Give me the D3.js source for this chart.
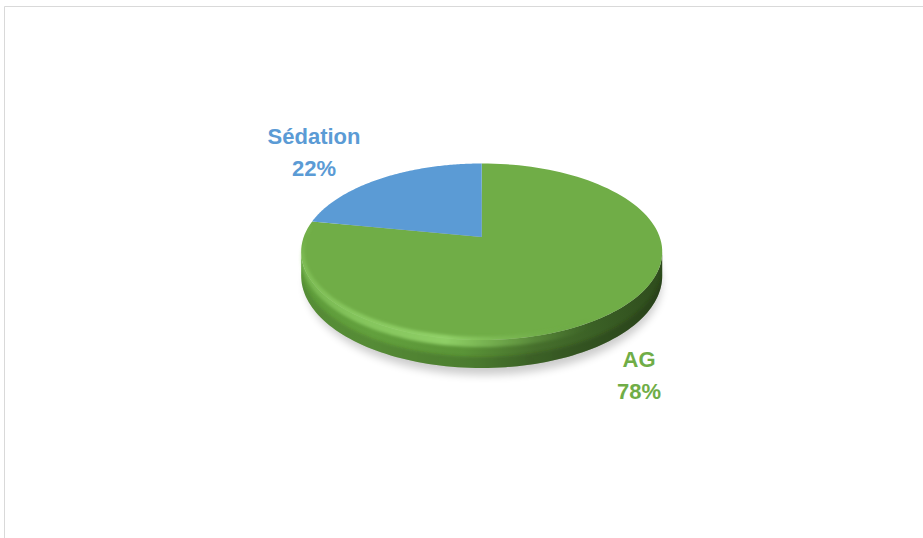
<!DOCTYPE html>
<html>
<head>
<meta charset="utf-8">
<script src="https://cdn.jsdelivr.net/npm/d3@7"></script>
<style>
  html, body { margin: 0; padding: 0; background: #fff; }
  svg { display: block; }
</style>
</head>
<body>
<svg id="chart" width="923" height="538"></svg>
<script>
// ---- data ----
const categories = ["AG", "Sédation"];
const values = [78, 22];
const labels = ["78%", "22%"];
const colors = ["#70AD47", "#5B9BD5"];

// ---- layout ----
const W = 923, H = 538;
const cx = 481.7, cy = 237;      // projected centre of the disk
const A = 178, B = 85.8, kappa = 0.167, depth = 23.3;

const svg = d3.select("#chart");

// frame lines
svg.append("line").attr("x1", 4.5).attr("y1", 6.5).attr("x2", W).attr("y2", 6.5)
  .attr("stroke", "#d9d9d9").attr("stroke-width", 1);
svg.append("line").attr("x1", 4.5).attr("y1", 6.5).attr("x2", 4.5).attr("y2", H)
  .attr("stroke", "#d9d9d9").attr("stroke-width", 1);

const defs = svg.append("defs");
const blur = defs.append("filter").attr("id", "blur")
  .attr("x", "-20%").attr("y", "-20%").attr("width", "140%").attr("height", "140%");
blur.append("feGaussianBlur").attr("stdDeviation", 4);
const blur2 = defs.append("filter").attr("id", "blur2")
  .attr("x", "-20%").attr("y", "-50%").attr("width", "140%").attr("height", "200%");
blur2.append("feGaussianBlur").attr("stdDeviation", 1.6);

function hGrad(id, stops) {
  const g = defs.append("linearGradient").attr("id", id)
    .attr("gradientUnits", "userSpaceOnUse")
    .attr("x1", cx - 182).attr("y1", 0).attr("x2", cx + 182).attr("y2", 0);
  stops.forEach(s => g.append("stop").attr("offset", s[0]).attr("stop-color", s[1])
    .attr("stop-opacity", s[2] == null ? 1 : s[2]));
}
hGrad("sideGrad", [[0, "#5f9d3b"], [0.2, "#62a03d"], [0.45, "#5a9437"],
  [0.65, "#466f2c"], [0.82, "#3a5f25"], [1, "#2e4b1c"]]);
hGrad("rimGrad", [[0, "#8ccc62", 0.5], [0.15, "#8fd066", 0.75], [0.4, "#94d56b", 0.9],
  [0.6, "#80bd58", 0.45], [0.8, "#5e9a3c", 0.0], [1, "#5e9a3c", 0]]);
hGrad("botGrad", [[0, "#2f4f1d", 0.22], [0.5, "#2b4a1a", 0.32], [1, "#1e3512", 0.5]]);

// perspective projection of a point on the disk
function proj(theta, r, dz) {
  const u = r * Math.sin(theta), v = -r * Math.cos(theta);
  const w = 1 - kappa * v;
  return [cx + A * u / w, cy + B * v / w + dz * depth / w];
}

const pie = d3.pie().sort(null).value(d => d.value);
const arcs = pie(categories.map((c, i) => ({ cat: c, value: values[i], i })));

const line = d3.line();

// shadow
svg.append("ellipse").attr("cx", cx + 2).attr("cy", cy + 46).attr("rx", 178).attr("ry", 92)
  .attr("fill", "#000").attr("opacity", 0.2).attr("filter", "url(#blur)");

// side (front visible range)
const visA = Math.acos(-kappa), visB = 2 * Math.PI - Math.acos(-kappa);
function band(s, e, d0, d1, r0, r1) {
  const n = 100, top = [], bot = [];
  for (let k = 0; k <= n; k++) {
    const t = s + (e - s) * k / n;
    top.push(proj(t, r0, d0));
    bot.push(proj(t, r1, d1));
  }
  return line(top.concat(bot.reverse())) + "Z";
}
arcs.forEach(a => {
  const s = Math.max(a.startAngle, visA), e = Math.min(a.endAngle, visB);
  if (e <= s) return;
  svg.append("path").attr("d", band(s, e, 0, 1, 1, 1))
    .attr("fill", a.data.i === 0 ? "url(#sideGrad)" : d3.color(colors[a.data.i]).darker(0.6));
});
// clip to side for shading
defs.append("clipPath").attr("id", "sideClip")
  .append("path").attr("d", band(visA, visB, 0, 1, 1, 1));
const shade = svg.append("g").attr("clip-path", "url(#sideClip)");
// darker lower part of the side
shade.append("path").attr("d", band(visA, visB, 0.6, 1.3, 1, 1))
  .attr("fill", "url(#botGrad)").attr("filter", "url(#blur2)");

// top faces
arcs.forEach(a => {
  const n = 120, pts = [[cx, cy]];
  for (let k = 0; k <= n; k++) {
    const t = a.startAngle + (a.endAngle - a.startAngle) * k / n;
    pts.push(proj(t, 1, 0));
  }
  svg.append("path").attr("d", line(pts) + "Z").attr("fill", colors[a.data.i]);
});

// rounded bevel highlight along the front rim
svg.append("path").attr("d", band(visA - 0.3, visB + 0.3, -0.05, 0.25, 0.985, 1))
  .attr("fill", "url(#rimGrad)").attr("filter", "url(#blur2)");

// labels
const labelPos = { "Sédation": [314, 143.5], "AG": [639, 366.5] };
arcs.forEach(a => {
  const [lx, ly] = labelPos[a.data.cat];
  const t = svg.append("text").attr("x", lx).attr("y", ly)
    .attr("text-anchor", "middle")
    .attr("font-family", "'Liberation Sans', Arial, sans-serif")
    .attr("font-weight", "bold").attr("font-size", 22)
    .attr("fill", colors[a.data.i]);
  t.append("tspan").attr("x", lx).text(a.data.cat);
  t.append("tspan").attr("x", lx).attr("dy", 32.5).text(labels[a.data.i]);
});
</script>
</body>
</html>
